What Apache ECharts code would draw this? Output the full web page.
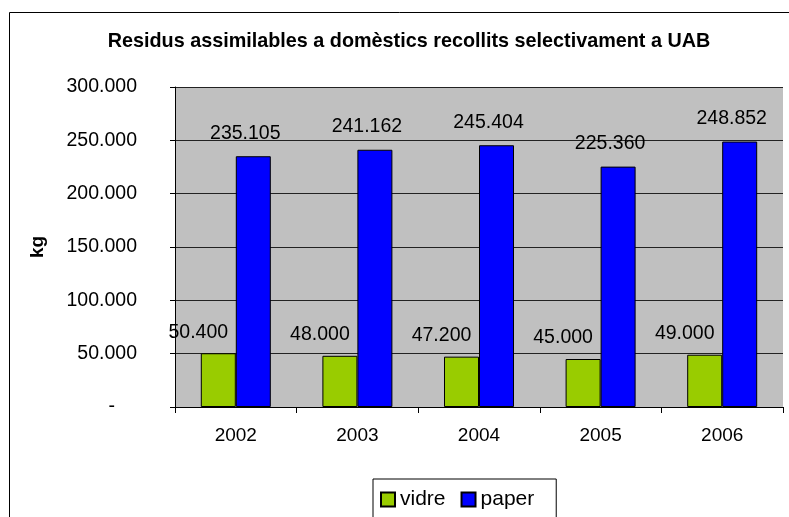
<!DOCTYPE html>
<html>
<head>
<meta charset="utf-8">
<script src="https://cdn.jsdelivr.net/npm/echarts@6/dist/echarts.min.js"></script>
<style>
html,body{margin:0;padding:0;background:#fff;}
#chart{width:789px;height:517px;}
</style>
</head>
<body>
<div id="chart"></div>
<script>
const titleText = 'Residus assimilables a domèstics recollits selectivament a UAB';
const categories = ['2002', '2003', '2004', '2005', '2006'];
const vidre = [50400, 48000, 47200, 45000, 49000];
const paper = [235105, 241162, 245404, 225360, 248852];
const yTicks = [0, 50000, 100000, 150000, 200000, 250000, 300000];

const FONT = '"Liberation Sans", Arial, sans-serif';
function fmt(v) {
  return String(Math.round(v)).replace(/\B(?=(\d{3})+(?!\d))/g, '.');
}

const chart = echarts.init(document.getElementById('chart'), null, {renderer: 'canvas'});
chart.setOption({
  animation: false,
  backgroundColor: '#fff',
  textStyle: {fontFamily: FONT},
  graphic: [{
    type: 'rect',
    shape: {x: 9.5, y: 12.5, width: 820, height: 540},
    style: {fill: 'none', stroke: '#000', lineWidth: 1},
    z: -10
  }],
  title: {
    text: titleText,
    left: 404,
    textAlign: 'center',
    top: 27,
    textStyle: {fontFamily: FONT, fontSize: 19.8, fontWeight: 'bold', color: '#000'}
  },
  legend: {
    data: ['vidre', 'paper'],
    left: 373,
    top: 479,
    orient: 'horizontal',
    borderColor: '#000',
    borderWidth: 1,
    padding: [10, 22, 20, 7],
    itemWidth: 14,
    itemHeight: 14,
    itemGap: 15,
    icon: 'rect',
    textStyle: {fontFamily: FONT, fontSize: 21, color: '#000'}
  },
  grid: {
    left: 175, right: 6, top: 87, bottom: 110,
    show: true, backgroundColor: '#c0c0c0', borderWidth: 0
  },
  xAxis: {
    type: 'category',
    data: categories,
    axisLine: {lineStyle: {color: '#000', width: 1}},
    axisTick: {show: true, length: 6, lineStyle: {color: '#000'}},
    axisLabel: {fontFamily: FONT, fontSize: 19, color: '#000', margin: 19}
  },
  yAxis: {
    type: 'value',
    min: 0, max: 300000, interval: 50000,
    name: 'kg',
    nameLocation: 'middle',
    nameGap: 128,
    nameRotate: 90,
    nameTextStyle: {fontFamily: FONT, fontSize: 19, fontWeight: 'bold', color: '#000'},
    axisLine: {show: true, lineStyle: {color: '#000', width: 1}},
    axisTick: {show: true, length: 5, lineStyle: {color: '#000'}},
    splitLine: {show: true, lineStyle: {color: '#222', width: 1}},
    axisLabel: {
      fontFamily: FONT, fontSize: 19.5, color: '#000', margin: 38,
      formatter: function (v) { return v === 0 ? '{z|-}' : fmt(v); },
      rich: {z: {fontFamily: FONT, fontSize: 19.5, color: '#000', padding: [0, 22, 0, 0]}}
    }
  },
  series: [{
    name: 'vidre',
    type: 'bar',
    data: vidre,
    barWidth: 35,
    barGap: '0%',
    itemStyle: {color: '#99cc00', borderColor: '#000', borderWidth: 1},
    label: {
      show: true, position: 'top', offset: [-20, -6],
      fontFamily: FONT, fontSize: 19.5, color: '#000',
      formatter: function (p) { return fmt(p.value); }
    }
  }, {
    name: 'paper',
    type: 'bar',
    data: paper,
    barWidth: 35,
    itemStyle: {color: '#0000ff', borderColor: '#000', borderWidth: 1},
    label: {
      show: true, position: 'top', offset: [-8, -8],
      fontFamily: FONT, fontSize: 19.5, color: '#000',
      formatter: function (p) { return fmt(p.value); }
    }
  }]
});
</script>
</body>
</html>
